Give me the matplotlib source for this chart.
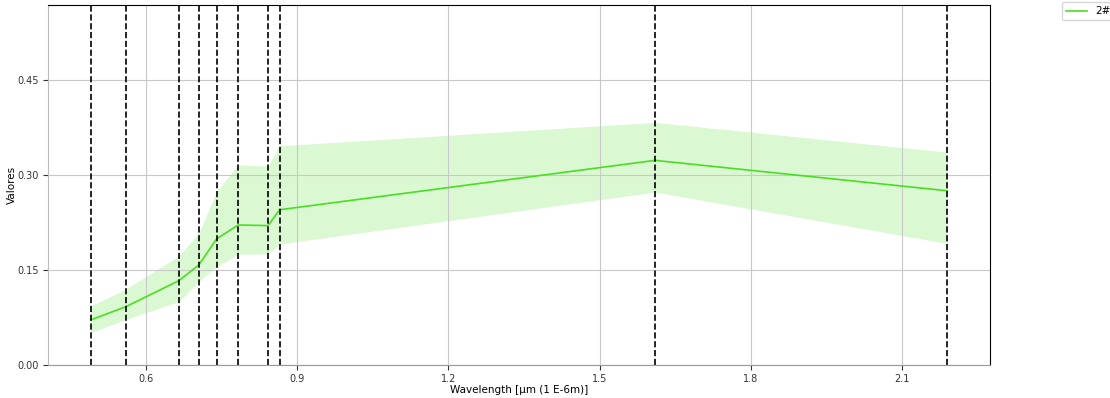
import matplotlib
matplotlib.use('Agg')
import matplotlib.pyplot as plt

# Sentinel-2 band centers (um)
wavelengths = [0.49, 0.56, 0.665, 0.705, 0.74, 0.783, 0.842, 0.865, 1.61, 2.19]
mean_vals = [0.071, 0.092, 0.133, 0.158, 0.199, 0.221, 0.220, 0.245, 0.323, 0.275]
upper_vals = [0.093, 0.120, 0.172, 0.208, 0.274, 0.316, 0.314, 0.346, 0.383, 0.336]
lower_vals = [0.051, 0.072, 0.100, 0.132, 0.155, 0.175, 0.175, 0.191, 0.273, 0.192]
series_label = "2#"
y_ticks = [0.00, 0.15, 0.30, 0.45]
x_ticks = [0.6, 0.9, 1.2, 1.5, 1.8, 2.1]

fig = plt.figure(figsize=(11.1, 3.98), dpi=100)
ax = fig.add_axes([0.043, 0.083, 0.849, 0.904])

color = '#4ade22'
ax.plot(wavelengths, mean_vals, color=color, lw=1.2, label=series_label)
ax.fill_between(wavelengths, lower_vals, upper_vals, color=color, alpha=0.2, lw=0)
for w in wavelengths:
    ax.axvline(w, color='black', ls='--', lw=1.2)

ax.set_ylim(0, 0.568)
ax.set_xticks(x_ticks)
ax.set_yticks(y_ticks)
ax.set_yticklabels(['%.2f' % v for v in y_ticks])
ax.tick_params(labelsize=7, colors='#333333', pad=3)
ax.grid(True, color='#c8c8c8', lw=0.8)
ax.spines['left'].set_color('#bbbbbb')
ax.spines['bottom'].set_color('#999999')
ax.set_xlabel('Wavelength [µm (1 E-6m)]', fontsize=7.5)
ax.set_ylabel('Valores', fontsize=7.5)
ax.xaxis.set_label_coords(0.5, -0.055)
ax.yaxis.set_label_coords(-0.033, 0.5)
ax.legend(bbox_to_anchor=(0.957, 0.995), bbox_transform=fig.transFigure,
          loc='upper left', fontsize=7.5, borderaxespad=0)

fig.savefig('out.png', dpi=100)
